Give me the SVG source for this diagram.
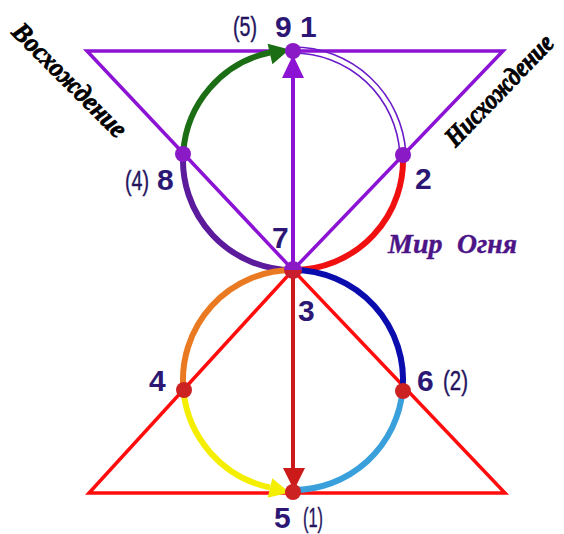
<svg xmlns="http://www.w3.org/2000/svg" width="564" height="534" viewBox="0 0 564 534">
<style>
.tri-p{fill:none;stroke:#8c12d4;stroke-width:3.5;stroke-linejoin:miter}
.tri-r{fill:none;stroke:#ff0c0c;stroke-width:3.5;stroke-linejoin:miter}
.arc{fill:none;stroke-width:6}
.thin{fill:none;stroke:#6a1cc8;stroke-width:1.6}
.num{font-family:"Liberation Sans",Arial,sans-serif;font-weight:bold;font-size:30px;fill:#2c1874}
.par{font-weight:normal;font-size:27px;fill:#24145e;stroke:#24145e;stroke-width:0.4}
.side{font-family:"Liberation Serif","Times New Roman",serif;font-weight:bold;font-style:italic;font-size:27px;fill:#000;stroke:#000;stroke-width:0.8}
.world{font-family:"Liberation Serif","Times New Roman",serif;font-weight:bold;font-style:italic;font-size:28px;fill:#4c1486;stroke:#4c1486;stroke-width:0.4}
.dp{fill:#8a1ac6}
.dr{fill:#cc2222}
</style>
<rect width="564" height="534" fill="#fff"/>
<g id="triangles">
<polygon class="tri-p" points="87,51 503,51 293,270"/>
<polygon class="tri-r" points="89,493 505,493 293,270"/>
</g>
<g id="connectors">
<path class="arc" stroke="#1b6e14" d="M183.2,152.8 A110,110 0 0 1 270,52.5"/>
<polygon fill="#1b6e14" points="289.5,49.5 267.6,43.8 272.4,64.2"/>
<path class="thin" d="M293,47 A113,113 0 0 1 405.8,152.6"/>
<path class="thin" d="M293,53 A107,107 0 0 1 399.8,153"/>
<path class="arc" stroke="#f01010" d="M402.8,152.8 A110,110 0 0 1 293,270"/>
<path class="arc" stroke="#5c1a9c" d="M293,270 A110,110 0 0 1 183.2,152.8"/>
<path class="arc" stroke="#ea7a22" d="M293,270 A110,110 0 0 0 183.4,389.8"/>
<path class="arc" stroke="#f4ee00" d="M183.4,389.8 A110,110 0 0 0 270,487.5"/>
<polygon fill="#f4ee00" points="289.5,492.5 272.3,478.3 267.7,497.7"/>
<path class="arc" stroke="#3aa0dc" d="M293,490 A110,110 0 0 0 402.6,389.8"/>
<path class="arc" stroke="#0a0cae" d="M402.6,389.8 A110,110 0 0 0 293,270"/>
<line x1="293" y1="270" x2="293" y2="75" stroke="#8c12d4" stroke-width="4"/>
<polygon fill="#8c12d4" points="293,55 282,78 304,78"/>
<line x1="293" y1="270" x2="293" y2="470" stroke="#cc1a1a" stroke-width="4"/>
<polygon fill="#cc1a1a" points="283,468 305,468 294,490"/>
</g>
<g id="n9-1"><circle class="dp" cx="293" cy="51" r="8"/></g>
<g id="n8"><circle class="dp" cx="183" cy="154" r="8"/></g>
<g id="n2"><circle class="dp" cx="403" cy="155" r="8"/></g>
<g id="n7-3">
<path fill="#8a1ac6" d="M284,270 A9,9 0 0 1 302,270 Z"/>
<path fill="#c81e2e" d="M284,270 A9,9 0 0 0 302,270 Z"/>
</g>
<g id="n4"><circle class="dr" cx="184" cy="390" r="8"/></g>
<g id="n6"><circle class="dr" cx="403" cy="391" r="8"/></g>
<g id="n5"><circle class="dr" cx="293" cy="492" r="8"/></g>
<g id="labels">
<text class="num par" x="233" y="36" textLength="24" lengthAdjust="spacingAndGlyphs">(5)</text>
<text class="num" x="275" y="37">9</text>
<text class="num" x="300" y="37">1</text>
<text class="num par" x="125" y="190" textLength="24" lengthAdjust="spacingAndGlyphs">(4)</text>
<text class="num" x="157" y="190">8</text>
<text class="num" x="415" y="189">2</text>
<text class="num" x="272" y="248">7</text>
<text class="num" x="298" y="321">3</text>
<text class="num" x="149" y="391">4</text>
<text class="num" x="417" y="391">6</text>
<text class="num par" x="443" y="390" textLength="25" lengthAdjust="spacingAndGlyphs">(2)</text>
<text class="num" x="274" y="528">5</text>
<text class="num par" x="303" y="527" font-size="24" textLength="20" lengthAdjust="spacingAndGlyphs">(1)</text>
<text class="world" x="388" y="253">Мир</text>
<text class="world" x="457" y="253" textLength="60" lengthAdjust="spacingAndGlyphs">Огня</text>
<text class="side" text-anchor="middle" transform="translate(70,80) rotate(45)" y="9" textLength="150" lengthAdjust="spacingAndGlyphs">Восхождение</text>
<text class="side" text-anchor="middle" transform="translate(499,90) rotate(-46)" y="9" textLength="144" lengthAdjust="spacingAndGlyphs">Нисхождение</text>
</g>
</svg>
